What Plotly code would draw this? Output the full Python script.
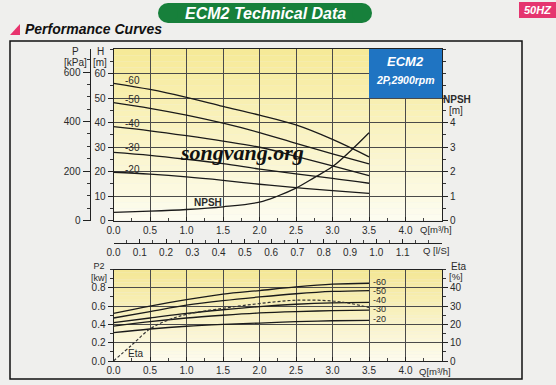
import plotly.graph_objects as go

W, H = 556, 385
def px(x): return x / W
def py(y): return 1 - y / H

# ---------------- data ----------------
Q = [0.0, 0.5, 1.0, 1.5, 2.0, 2.5, 3.0, 3.5]
curve_labels = ['-60', '-50', '-40', '-30', '-20']
H60 = [56.0, 53.5, 50.3, 46.6, 43.0, 39.0, 33.1, 26.0]
H50 = [48.1, 45.8, 43.0, 39.7, 35.9, 31.5, 27.2, 23.1]
H40 = [38.3, 36.6, 34.6, 32.4, 29.9, 26.2, 22.3, 18.3]
H30 = [27.8, 26.6, 25.0, 23.2, 21.0, 19.0, 17.2, 15.2]
H20 = [19.7, 18.9, 17.8, 16.4, 14.8, 13.4, 12.2, 11.1]
head_curves = [H60, H50, H40, H30, H20]
head_label_pos = [57.0, 49.4, 39.7, 29.7, 21.0]

Q_npsh = [0.0, 0.5, 1.0, 1.5, 2.0, 2.25, 2.5, 2.75, 3.0, 3.25, 3.5]
NPSH = [0.33, 0.38, 0.45, 0.56, 0.75, 1.0, 1.32, 1.75, 2.2, 2.85, 3.58]

P60 = [0.52, 0.60, 0.67, 0.73, 0.77, 0.81, 0.84, 0.85]
P50 = [0.47, 0.54, 0.61, 0.66, 0.70, 0.735, 0.76, 0.77]
P40 = [0.42, 0.47, 0.52, 0.56, 0.595, 0.62, 0.635, 0.64]
P30 = [0.38, 0.43, 0.47, 0.50, 0.525, 0.54, 0.55, 0.555]
P20 = [0.31, 0.35, 0.38, 0.40, 0.415, 0.43, 0.44, 0.445]
power_curves = [P60, P50, P40, P30, P20]
power_label_pos = [0.867, 0.768, 0.667, 0.568, 0.459]

Q_eta = [0.0, 0.25, 0.5, 0.75, 1.0, 1.5, 2.0, 2.5, 3.0, 3.25, 3.5]
ETA = [0.0, 8.7, 17.5, 22.4, 25.5, 28.8, 31.4, 33.2, 32.8, 31.4, 29.2]

q_ticks = [0.0, 0.5, 1.0, 1.5, 2.0, 2.5, 3.0, 3.5, 4.0]
ls_ticks = [0.0, 0.1, 0.2, 0.3, 0.4, 0.5, 0.6, 0.7, 0.8, 0.9, 1.0, 1.1]
h_ticks = [0, 10, 20, 30, 40, 50, 60]
p_ticks = [0, 200, 400, 600]
npsh_ticks = [0, 1, 2, 3, 4]
p2_ticks = [0.0, 0.2, 0.4, 0.6, 0.8]
eta_ticks = [0, 10, 20, 30, 40]

# ---------------- layout geometry ----------------
X0, X1 = px(113.5), px(442)
TOP_DOM = [py(220.5), py(49)]
BOT_DOM = [py(361), py(269.5)]
LS_POS = py(243)

FONT = 'Liberation Sans, Arial, sans-serif'
TXT = '#2a2a2a'
GRID = '#4a4a4a'
CURVE = '#1a1a1a'

tickfont = dict(family=FONT, size=10, color=TXT)

fig = go.Figure()

for ys in head_curves:
    fig.add_trace(go.Scatter(x=Q, y=ys, mode='lines', line=dict(color=CURVE, width=1.3, shape='spline'),
                             xaxis='x', yaxis='y', hoverinfo='skip', showlegend=False))
fig.add_trace(go.Scatter(x=Q_npsh, y=NPSH, mode='lines', line=dict(color=CURVE, width=1.3, shape='spline'),
                         xaxis='x', yaxis='y3', hoverinfo='skip', showlegend=False))
# dummy traces to carry the extra axes
fig.add_trace(go.Scatter(x=[None], y=[None], xaxis='x', yaxis='y2', showlegend=False, hoverinfo='skip'))
fig.add_trace(go.Scatter(x=[None], y=[None], xaxis='x2', yaxis='y', showlegend=False, hoverinfo='skip'))

for ys in power_curves:
    fig.add_trace(go.Scatter(x=Q, y=ys, mode='lines', line=dict(color=CURVE, width=1.3, shape='spline'),
                             xaxis='x3', yaxis='y4', hoverinfo='skip', showlegend=False))
fig.add_trace(go.Scatter(x=Q_eta, y=ETA, mode='lines',
                         line=dict(color='#333333', width=1.2, dash='3px,2px', shape='spline'),
                         xaxis='x3', yaxis='y5', hoverinfo='skip', showlegend=False))

def xax(domain, rng, tickvals, anchor, grid, minor_dtick, position=None, overlaying=None):
    d = dict(domain=domain, range=rng, tickvals=tickvals, ticktext=['%.1f' % v for v in tickvals],
             showline=True, linecolor='#222', linewidth=1, ticks='inside', ticklen=4, tickcolor='#222',
             tickfont=tickfont, showgrid=grid, gridcolor=GRID, gridwidth=1, zeroline=False,
             automargin=False,
             minor=dict(dtick=minor_dtick, tick0=0, ticks='inside', ticklen=3, tickcolor='#444', showgrid=False),
             fixedrange=True)
    if anchor == 'free':
        d.update(anchor='free', position=position)
    else:
        d.update(anchor=anchor)
    if overlaying:
        d.update(overlaying=overlaying)
    return d

def yminor(dt):
    return dict(dtick=dt, tick0=0, ticks='outside', ticklen=3, tickcolor='#333', showgrid=False)

fig.update_layout(
    template='none',
    width=W, height=H, margin=dict(l=0, r=0, t=0, b=0, pad=0), autosize=False,
    paper_bgcolor='#efefed', plot_bgcolor='rgba(0,0,0,0)',
    xaxis=dict(**xax([X0, X1], [0, 4.5], q_ticks, 'y', True, 0.25), mirror=True),
    xaxis2=xax([X0, X1], [0, 1.25], ls_ticks, 'free', False, 0.05, position=LS_POS, overlaying='x'),
    xaxis3=dict(**xax([X0, X1], [0, 4.5], q_ticks, 'y4', True, 0.25), mirror=True),
    yaxis=dict(domain=TOP_DOM, range=[0, 70], tickvals=h_ticks, anchor='x', side='left',
               showline=True, linecolor='#222', mirror=True, ticks='outside', ticklen=5, tickcolor='#222',
               tickfont=tickfont, showgrid=True, gridcolor=GRID, zeroline=False, automargin=False,
               minor=yminor(5), fixedrange=True),
    yaxis2=dict(range=[0, 693], tickvals=p_ticks, anchor='free', position=px(89.5), overlaying='y', side='left',
                showline=True, linecolor='#222', ticks='outside', ticklen=7, tickcolor='#222',
                tickfont=tickfont, showgrid=False, zeroline=False, automargin=False,
                minor=yminor(50), fixedrange=True),
    yaxis3=dict(range=[0, 7], tickvals=npsh_ticks, anchor='x', overlaying='y', side='right',
                showline=True, linecolor='#222', ticks='outside', ticklen=5, tickcolor='#222',
                tickfont=tickfont, showgrid=False, zeroline=False, automargin=False,
                minor=yminor(0.5), fixedrange=True),
    yaxis4=dict(domain=BOT_DOM, range=[0, 1.0], tickvals=p2_ticks, ticktext=['%.1f' % v for v in p2_ticks],
                anchor='x3', side='left', showline=True, linecolor='#222', mirror=True,
                ticks='outside', ticklen=5, tickcolor='#222', tickfont=tickfont,
                showgrid=True, gridcolor=GRID, zeroline=False, automargin=False,
                minor=yminor(0.1), fixedrange=True),
    yaxis5=dict(range=[0, 50], tickvals=eta_ticks, anchor='x3', overlaying='y4', side='right',
                showline=True, linecolor='#222', ticks='outside', ticklen=5, tickcolor='#222',
                tickfont=tickfont, showgrid=False, zeroline=False, automargin=False,
                minor=yminor(5), fixedrange=True),
)

def hexrgb(c):
    c = c.lstrip('#')
    return tuple(int(c[i:i + 2], 16) for i in (0, 2, 4))

def mix(c1, c2, t):
    a, b = hexrgb(c1), hexrgb(c2)
    return 'rgb(%d,%d,%d)' % tuple(round(a[i] + (b[i] - a[i]) * t) for i in range(3))

shapes = []
# gradient backgrounds
n = 28
for i in range(n):
    t = i / (n - 1)
    shapes.append(dict(type='rect', xref='x', yref='y', x0=0, x1=4.5, y0=70 * i / n, y1=70 * (i + 1) / n,
                       fillcolor=mix('#fdfcef', '#f6ea98', t), line=dict(width=0), layer='below'))
    shapes.append(dict(type='rect', xref='x3', yref='y4', x0=0, x1=4.5, y0=1.0 * i / n, y1=1.0 * (i + 1) / n,
                       fillcolor=mix('#fdfbec', '#f4e796', t), line=dict(width=0), layer='below'))
# blue info box
shapes.append(dict(type='rect', xref='x', yref='y', x0=3.5, x1=4.5, y0=50, y1=70,
                   fillcolor='#1f74c2', line=dict(width=0), layer='above'))
# outer frame
shapes.append(dict(type='rect', xref='paper', yref='paper', x0=px(10), x1=px(522), y0=py(379), y1=py(41),
                   line=dict(color='#111', width=1.5), fillcolor='rgba(0,0,0,0)', layer='below'))
# green header pill
shapes.append(dict(type='rect', xref='paper', yref='paper', x0=px(168), x1=px(362), y0=py(23), y1=py(3),
                   fillcolor='#17803b', line=dict(width=0)))
for cx in (168, 362):
    shapes.append(dict(type='circle', xref='paper', yref='paper', x0=px(cx - 10), x1=px(cx + 10),
                       y0=py(23), y1=py(3), fillcolor='#17803b', line=dict(width=0)))
# 50HZ tag
shapes.append(dict(type='rect', xref='paper', yref='paper', x0=px(519), x1=px(556), y0=py(18), y1=py(2),
                   fillcolor='#e5356f', line=dict(width=0)))
# red triangle
shapes.append(dict(type='path', xref='paper', yref='paper',
                   path='M %f %f L %f %f L %f %f Z' % (px(10), py(35), px(20), py(35), px(20), py(24)),
                   fillcolor='#e8336d', line=dict(width=0)))
fig.update_layout(shapes=shapes)

ann = []
def A(x, y, text, size=10, color=TXT, xanchor='center', yanchor='middle', bold=False, italic=False,
      family=FONT, xref='paper', yref='paper', pad=1):
    ann.append(dict(x=x, y=y, xref=xref, yref=yref, text=text, showarrow=False, xanchor=xanchor,
                    yanchor=yanchor, borderpad=pad,
                    font=dict(family=family, size=size, color=color,
                              weight='bold' if bold else 'normal', style='italic' if italic else 'normal')))

# header
A(px(265), py(13), 'ECM2 Technical Data', size=16, color='white', bold=True, italic=True)
A(px(537.5), py(10), '50HZ', size=11, color='white', bold=True, italic=True)
A(px(23), py(29.5), 'Performance Curves', size=14, color='#111', bold=True, italic=True, xanchor='left')
# axis titles
A(px(75), py(51.5), 'P', size=10)
A(px(75), py(62.5), '[kPa]', size=10)
A(px(100), py(51.5), 'H', size=10)
A(px(100), py(62.5), '[m]', size=10)
A(px(457), py(100), 'NPSH', size=10, bold=True)
A(px(456), py(110.5), '[m]', size=10)
A(px(418), py(229.5), 'Q[m³/h]', size=9.5, xanchor='left')
A(px(421), py(250.5), 'Q [l/S]', size=9.5, xanchor='left')
A(px(99), py(272), 'P2<br>[kw]', size=9, pad=0)
A(px(458), py(266.5), 'Eta', size=10)
A(px(456), py(276.5), '[%]', size=9.5)
A(px(417), py(371.5), 'Q[m³/h]', size=9.5, xanchor='left')
# box text
A(4.0, 65.0, 'ECM2', size=13, color='white', bold=True, italic=True, xref='x', yref='y')
A(4.0, 57.2, '2P,2900rpm', size=10.5, color='white', bold=True, italic=True, xref='x', yref='y')
# curve labels
for lab, yv in zip(curve_labels, head_label_pos):
    A(0.13, yv, lab, size=10, xanchor='left', xref='x', yref='y')
for lab, yv in zip(curve_labels, power_label_pos):
    A(3.53, yv, lab, size=9, xanchor='left', xref='x3', yref='y4')
A(1.29, 7.3, 'NPSH', size=10, bold=True, xref='x', yref='y')
A(0.3, 0.085, 'Eta', size=10, xref='x3', yref='y4')
# watermark
A(px(242), py(152), 'songvang.org', size=22, color='#111', bold=True, italic=True,
  family='Liberation Serif, Times New Roman, serif')
fig.update_layout(annotations=ann)

fig.write_html('out.html', config={'staticPlot': True, 'displayModeBar': False},
               post_script="document.body.style.margin='0';document.body.style.overflow='hidden';")
